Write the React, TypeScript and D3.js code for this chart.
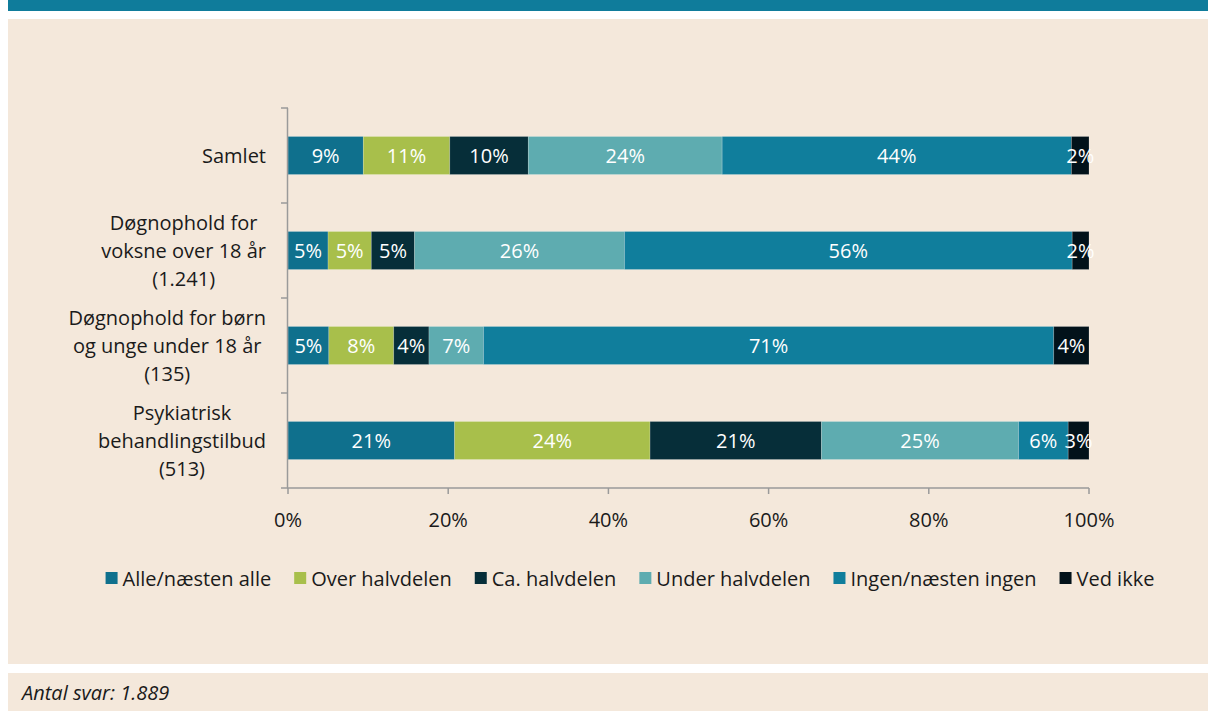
import React, { useEffect } from "react";
import * as d3 from "d3";

const categories: string[][] = [
  ["Samlet"],
  ["Døgnophold for", "voksne over 18 år", "(1.241)"],
  ["Døgnophold for børn", "og unge under 18 år", "(135)"],
  ["Psykiatrisk", "behandlingstilbud", "(513)"],
];

const seriesNames = [
  "Alle/næsten alle",
  "Over halvdelen",
  "Ca. halvdelen",
  "Under halvdelen",
  "Ingen/næsten ingen",
  "Ved ikke",
];

const seriesColors = ["#0F708D", "#A8BF4B", "#062E39", "#5EACB0", "#107E9C", "#02121A"];

// values per category (rows) for each series (columns), in percent
const samletValues = [9.4, 10.8, 9.8, 24.2, 43.6, 2.2];
const voksneValues = [5.0, 5.4, 5.4, 26.2, 55.9, 2.1];
const boernValues = [5.1, 8.1, 4.4, 6.8, 71.2, 4.4];
const psykValues = [20.8, 24.4, 21.4, 24.6, 6.2, 2.6];
const rows = [samletValues, voksneValues, boernValues, psykValues];

const xTicks = [0, 20, 40, 60, 80, 100];

const FONT = "'Open Sans', 'Noto Sans', sans-serif";
const FS = 20;

function measure(text: string, italic = false): number {
  const c = document.createElement("canvas");
  const ctx = c.getContext("2d")!;
  ctx.font = `${italic ? "italic " : ""}${FS}px 'Open Sans'`;
  return ctx.measureText(text).width;
}

export default function App() {
  useEffect(() => {
    document.body.style.margin = "0";
  }, []);

  const W = 1208;
  const H = 711;
  const x = d3.scaleLinear().domain([0, 100]).range([288, 1089]);
  const y = d3
    .scaleBand<number>()
    .domain(d3.range(categories.length))
    .range([108, 488])
    .paddingInner(0.6)
    .paddingOuter(0.3);
  const step = y.step();
  const tickYs = d3.range(categories.length + 1).map((i) => 108 + i * step);

  const labelRight = 266;
  const lineH = 28;

  // legend layout
  const sq = 12;
  const gapSqText = 5;
  const gapItem = 23;
  const widths = seriesNames.map((s) => measure(s));
  const totalW = widths.reduce((a, w) => a + sq + gapSqText + w, 0) + gapItem * (seriesNames.length - 1);
  let lx = 630 - totalW / 2;
  const legendItems = seriesNames.map((s, i) => {
    const item = { name: s, x: lx, color: seriesColors[i] };
    lx += sq + gapSqText + widths[i] + gapItem;
    return item;
  });
  const legendY = 578;

  return (
    <svg width={W} height={H} style={{ display: "block", background: "#ffffff" }} fontFamily={FONT}>
      <rect x={8} y={0} width={W - 8} height={11} fill="#0F7C9B" />
      <rect x={8} y={19} width={W - 8} height={645} fill="#F4E8DB" />
      <rect x={8} y={673} width={W - 8} height={38} fill="#F4E8DB" />

      {/* bars */}
      {rows.map((vals, ri) => {
        let acc = 0;
        const y0 = y(ri)!;
        return (
          <g key={ri}>
            {vals.map((v, si) => {
              const x0 = x(acc);
              acc += v;
              const x1 = x(acc);
              return (
                <g key={si}>
                  <rect
                    x={x0}
                    y={y0}
                    width={x1 - x0}
                    height={y.bandwidth()}
                    fill={seriesColors[si]}
                    stroke="rgba(255,255,255,0.25)"
                    strokeWidth={0.75}
                  />
                  <text
                    x={(x0 + x1) / 2}
                    y={y0 + y.bandwidth() / 2}
                    textAnchor="middle"
                    dominantBaseline="central"
                    fontSize={FS}
                    fill="#ffffff"
                  >
                    {Math.round(v)}%
                  </text>
                </g>
              );
            })}
          </g>
        );
      })}

      {/* y axis */}
      <line x1={287.5} x2={287.5} y1={108} y2={488} stroke="#9A9A9A" strokeWidth={1.5} />
      {tickYs.map((ty, i) => (
        <line key={i} x1={281} x2={288} y1={ty} y2={ty} stroke="#9A9A9A" strokeWidth={1.5} />
      ))}
      {/* x axis */}
      <line x1={287} x2={1089} y1={488} y2={488} stroke="#9A9A9A" strokeWidth={1.5} />
      {xTicks.map((t) => (
        <g key={t}>
          <line x1={x(t)} x2={x(t)} y1={488} y2={494} stroke="#9A9A9A" strokeWidth={1.5} />
          <text x={x(t)} y={519} textAnchor="middle" dominantBaseline="central" fontSize={FS} fill="#1a1a1a">
            {t}%
          </text>
        </g>
      ))}

      {/* category labels */}
      {categories.map((lines, ci) => {
        const cy = y(ci)! + y.bandwidth() / 2;
        const maxW = Math.max(...lines.map((l) => measure(l)));
        const cx = labelRight - maxW / 2;
        return (
          <text key={ci} textAnchor="middle" fontSize={FS} fill="#1a1a1a">
            {lines.map((l, li) => (
              <tspan key={li} x={cx} y={cy + (li - (lines.length - 1) / 2) * lineH} dominantBaseline="central">
                {l}
              </tspan>
            ))}
          </text>
        );
      })}

      {/* legend */}
      {legendItems.map((it) => (
        <g key={it.name}>
          <rect x={it.x} y={legendY - sq / 2} width={sq} height={sq} fill={it.color} />
          <text x={it.x + sq + gapSqText} y={legendY} dominantBaseline="central" fontSize={FS} fill="#1a1a1a">
            {it.name}
          </text>
        </g>
      ))}

      <text x={22} y={692} dominantBaseline="central" fontSize={FS} fontStyle="italic" fill="#1a1a1a">
        Antal svar: 1.889
      </text>
    </svg>
  );
}
